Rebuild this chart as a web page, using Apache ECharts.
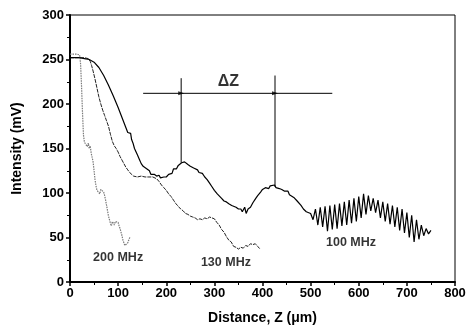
<!DOCTYPE html>
<html><head><meta charset="utf-8">
<script src="https://cdn.jsdelivr.net/npm/echarts@6/dist/echarts.min.js"></script>
<style>html,body{margin:0;padding:0;background:#fff}#c{width:470px;height:330px}</style>
</head><body><div id="c"></div>
<script>
// Data: [distance (um), intensity (mV)]
var s100 = [[0,252],[10,252],[20,252],[30,251],[40,250],[50,247],[60,241],[70,232],[80,221],[90,209],[100,196],[110,182],[115,175],[120,168],[123,166],[126,167],[128,160],[131,156],[134,150],[137,152],[140,143],[144,138],[148,133],[152,130],[156,128],[160,127],[165,125],[168,121],[172,123],[175,121],[180,119],[185,120],[188,117],[192,119],[195,118],[200,118],[205,121],[208,123],[212,122],[215,127],[218,128],[221,127],[225,131],[228,130],[232,134],[235,133],[238,135],[242,133],[245,132],[250,130],[253,131],[257,128],[260,127],[265,126],[268,123],[272,124],[275,122],[280,118],[285,115],[290,111],[295,107],[300,103],[303,104],[306,99],[310,97],[315,94],[318,95],[320,91],[325,90],[330,88],[333,89],[336,86],[340,85],[345,84],[348,85],[350,82],[355,82],[358,79],[360,80],[363,84],[366,77],[370,82],[375,84],[380,89],[383,88],[386,94],[390,97],[393,96],[396,101],[400,104],[403,103],[406,106],[410,107],[413,105],[416,108],[420,107],[425,109],[428,106],[432,108],[435,105],[440,104],[443,105],[446,102],[450,101],[453,102],[456,98],[460,97],[465,95],[468,96],[472,91],[475,89],[480,86],[485,82],[488,83],[491,79],[495,78],[500,77],[505,70],[510,82],[515,64],[520,84],[525,62],[530,85],[535,57],[540,86],[545,59],[550,87],[555,60],[560,88],[565,63],[570,90],[575,64],[580,92],[585,66],[590,94],[595,68],[600,96],[605,72],[610,99],[615,76],[620,97],[625,80],[630,94],[635,78],[640,92],[645,72],[650,90],[655,68],[660,88],[665,65],[670,86],[675,62],[680,84],[685,58],[690,82],[695,55],[700,78],[705,50],[710,75],[715,45],[720,70],[725,48],[730,64],[735,52],[740,60],[745,54],[750,58]];
var s130 = [[0,252],[10,252],[20,252],[30,252],[38,251],[42,248],[45,243],[48,237],[52,228],[56,218],[60,208],[64,200],[68,193],[72,187],[76,181],[80,175],[84,166],[88,158],[92,153],[96,150],[100,146],[104,141],[108,137],[112,133],[116,129],[120,126],[124,123],[128,122],[132,119],[136,121],[140,118],[144,117],[148,119],[152,117],[156,118],[160,117],[164,118],[168,116],[172,118],[176,117],[180,116],[185,113],[190,109],[195,106],[200,103],[205,99],[210,96],[215,92],[220,88],[225,85],[230,82],[235,80],[240,77],[245,76],[250,74],[255,73],[260,72],[265,70],[270,71],[275,70],[280,72],[285,71],[290,73],[295,72],[300,71],[305,67],[310,64],[315,59],[320,56],[325,51],[330,47],[335,45],[340,40],[345,39],[350,37],[355,39],[360,38],[365,41],[370,40],[375,43],[380,42],[385,43],[390,40],[395,37]];
var s200 = [[0,256],[5,256],[10,256],[15,256],[20,255],[22,245],[24,220],[26,190],[28,165],[30,157],[33,155],[36,152],[38,156],[40,150],[42,153],[44,145],[46,140],[48,135],[50,125],[52,115],[54,108],[56,103],[58,101],[60,101],[62,99],[64,104],[66,106],[68,103],[70,101],[72,97],[74,92],[76,86],[78,80],[80,74],[82,70],[84,66],[86,63],[88,68],[90,67],[92,64],[94,68],[96,68],[98,66],[100,67],[102,63],[104,60],[106,56],[108,52],[110,47],[112,44],[114,41],[116,40],[118,42],[120,44],[122,47],[125,51]];
// Annotation (delta Z) lines
var dzHorizontal = [[152,212],[545,212]];
var dzLeft = [[231,229],[231,134]];
var dzRight = [[426,232],[426,107]];
var labelTexts = ['200 MHz','130 MHz','100 MHz','ΔZ'];
var labelX = [100,324,584,329];
var labelY = [27,22,44,225];
var labelSizes = [12.5,12.5,12.5,16];
var xTicks = {min:0,max:800,interval:100};
var yTicks = {min:0,max:300,interval:50};

var FONT = "'Liberation Sans', Arial, sans-serif";
var chart = echarts.init(document.getElementById('c'), null, {renderer:'canvas'});
function annLine(d){
  return {type:'line',data:d,showSymbol:false,symbol:'none',silent:true,
    lineStyle:{color:'#000',width:1},z:1};
}
var labelData = labelTexts.map(function(t,i){
  return {value:[labelX[i],labelY[i]],name:t,label:{fontSize:labelSizes[i]}};
});
chart.setOption({
  animation:false,
  backgroundColor:'#fff',
  grid:{left:70,right:15,top:15,bottom:48,show:true,borderColor:'#000',borderWidth:1},
  xAxis:{type:'value',min:xTicks.min,max:xTicks.max,interval:xTicks.interval,
    name:'Distance, Z (μm)',nameLocation:'middle',nameGap:29,
    nameTextStyle:{fontFamily:FONT,fontWeight:'bold',fontSize:14,color:'#000'},
    axisLine:{lineStyle:{color:'#000',width:2}},
    axisTick:{length:4,lineStyle:{color:'#000',width:1.5}},
    minorTick:{show:true,splitNumber:2,length:3,lineStyle:{color:'#000'}},
    splitLine:{show:false},
    axisLabel:{fontFamily:FONT,fontWeight:'bold',fontSize:13,color:'#000',margin:5}},
  yAxis:{type:'value',min:yTicks.min,max:yTicks.max,interval:yTicks.interval,
    name:'Intensity (mV)',nameLocation:'middle',nameGap:46,
    nameTextStyle:{fontFamily:FONT,fontWeight:'bold',fontSize:14,color:'#000'},
    axisLine:{lineStyle:{color:'#000',width:2}},
    axisTick:{length:4,lineStyle:{color:'#000',width:1.5}},
    minorTick:{show:true,splitNumber:2,length:3,lineStyle:{color:'#000'}},
    splitLine:{show:false},
    axisLabel:{fontFamily:FONT,fontWeight:'bold',fontSize:13,color:'#000',margin:6}},
  series:[
    {type:'line',name:'200 MHz',data:s200,showSymbol:false,symbol:'none',
      lineStyle:{color:'#7a7a7a',width:1.2,type:[1.5,1]},z:2},
    {type:'line',name:'130 MHz',data:s130,showSymbol:false,symbol:'none',
      lineStyle:{color:'#222',width:1,type:[4,1]},z:3},
    {type:'line',name:'100 MHz',data:s100,showSymbol:false,symbol:'none',
      lineStyle:{color:'#000',width:1.2},z:4},
    annLine(dzHorizontal),annLine(dzLeft),annLine(dzRight),
    {type:'scatter',data:[[231,212],[426,212]],symbol:'triangle',symbolRotate:-90,symbolSize:[4,6],
      itemStyle:{color:'#000'},silent:true,z:5},
    {type:'scatter',data:labelData,symbolSize:0,silent:true,z:6,
      label:{show:true,position:'inside',formatter:function(p){return p.name;},
        fontFamily:FONT,fontWeight:'bold',color:'#000',fontSize:12.5}}
  ]
});
</script></body></html>
